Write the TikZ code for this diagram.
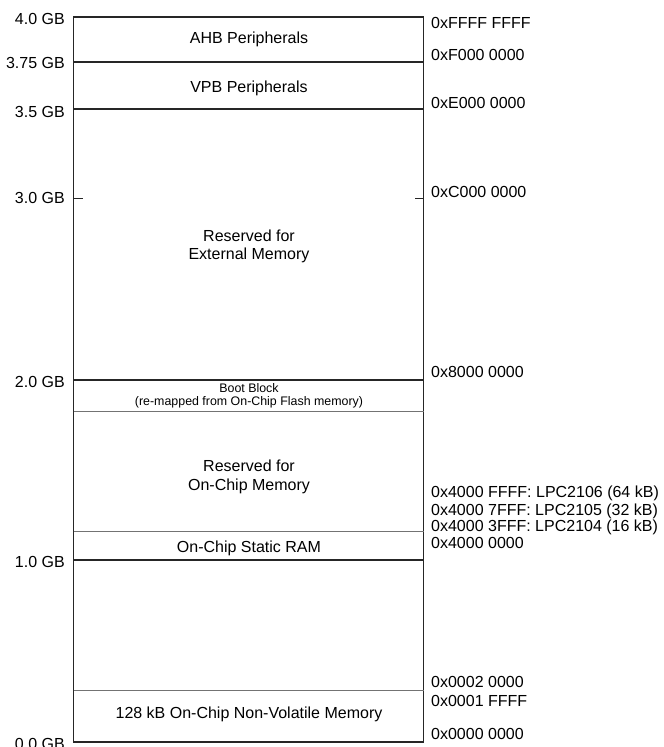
\documentclass[tikz,border=0pt]{standalone}
\usepackage{fontspec}
\setmainfont{Liberation Sans}
\begin{document}
\begin{tikzpicture}[x=1pt,y=-1pt,
  lbl/.style={inner sep=0pt,text height=11.4pt,text depth=0pt,font=\fontsize{16}{19}\selectfont},
  small/.style={inner sep=0pt,text height=8.9pt,text depth=0pt,font=\fontsize{12.4}{15}\selectfont},
  leftlbl/.style={lbl,anchor=east},
  rightlbl/.style={lbl,anchor=west},
  boundary/.style={line width=1.8pt,black!85},
  subline/.style={line width=0.9pt,black!55},
  tickline/.style={line width=1.4pt,black!85}]
\useasboundingbox (0,0) rectangle (664,747);
% box corners
\coordinate (TL) at (73.5,17.3);
\coordinate (BR) at (423.5,741.7);
\draw[boundary] (TL) rectangle (BR);
% boundary lines
\foreach \n/\y in {a/61.7,b/109.3,c/380,d/560}{
  \coordinate (L\n) at (73.5,\y);
  \coordinate (R\n) at (423.5,\y);
  \draw[boundary] (L\n) -- (R\n);
}
\foreach \n/\y in {e/411.7,f/531.7,g/690.7}{
  \coordinate (L\n) at (73.5,\y);
  \coordinate (R\n) at (423.5,\y);
  \draw[subline] (L\n) -- (R\n);
}
% ticks at 3.0 GB
\coordinate (Lt) at (73.5,198.3);
\coordinate (Lt2) at (82.5,198.3);
\coordinate (Rt) at (423.5,198.3);
\coordinate (Rt2) at (415,198.3);
\draw[tickline] (Lt) -- (Lt2);
\draw[tickline] (Rt) -- (Rt2);
% left labels
\node[leftlbl] (g40) at (65,19) {4.0 GB};
\node[leftlbl] (g375) at (65,63) {3.75 GB};
\node[leftlbl] (g35) at (65,111.5) {3.5 GB};
\node[leftlbl] (g30) at (65,198) {3.0 GB};
\node[leftlbl] (g20) at (65,381.7) {2.0 GB};
\node[leftlbl] (g10) at (65,561.7) {1.0 GB};
\node[leftlbl] (g00) at (65,743.5) {0.0 GB};
% right labels
\node[rightlbl] (hFFFF) at (431,23) {0xFFFF FFFF};
\node[rightlbl] (hF000) at (431,55) {0xF000 0000};
\node[rightlbl] (hE000) at (431,102.5) {0xE000 0000};
\node[rightlbl] (hC000) at (431,191.5) {0xC000 0000};
\node[rightlbl] (h8000) at (431,372) {0x8000 0000};
\node[rightlbl] (h64) at (431,492) {0x4000 FFFF: LPC2106 (64 kB)};
\node[rightlbl] (h32) at (431,509.5) {0x4000 7FFF: LPC2105 (32 kB)};
\node[rightlbl] (h16) at (431,526) {0x4000 3FFF: LPC2104 (16 kB)};
\node[rightlbl] (h4000) at (431,543) {0x4000 0000};
\node[rightlbl] (h20000) at (431,681.5) {0x0002 0000};
\node[rightlbl] (h1FFFF) at (431,700.5) {0x0001 FFFF};
\node[rightlbl] (h0000) at (431,734) {0x0000 0000};
% region texts
\node[lbl] (ahb) at (249,38) {AHB Peripherals};
\node[lbl] (vpb) at (249,87) {VPB Peripherals};
\node[lbl] (ext1) at (249,235.5) {Reserved for};
\node[lbl] (ext2) at (249,254) {External Memory};
\node[small] (boot1) at (249,388) {Boot Block};
\node[small] (boot2) at (249,401.5) {(re-mapped from On-Chip Flash memory)};
\node[lbl] (onc1) at (249,466) {Reserved for};
\node[lbl] (onc2) at (249,485) {On-Chip Memory};
\node[lbl] (sram) at (249,547) {On-Chip Static RAM};
\node[lbl] (nvm) at (249,713) {128 kB On-Chip Non-Volatile Memory};
\end{tikzpicture}
\end{document}
